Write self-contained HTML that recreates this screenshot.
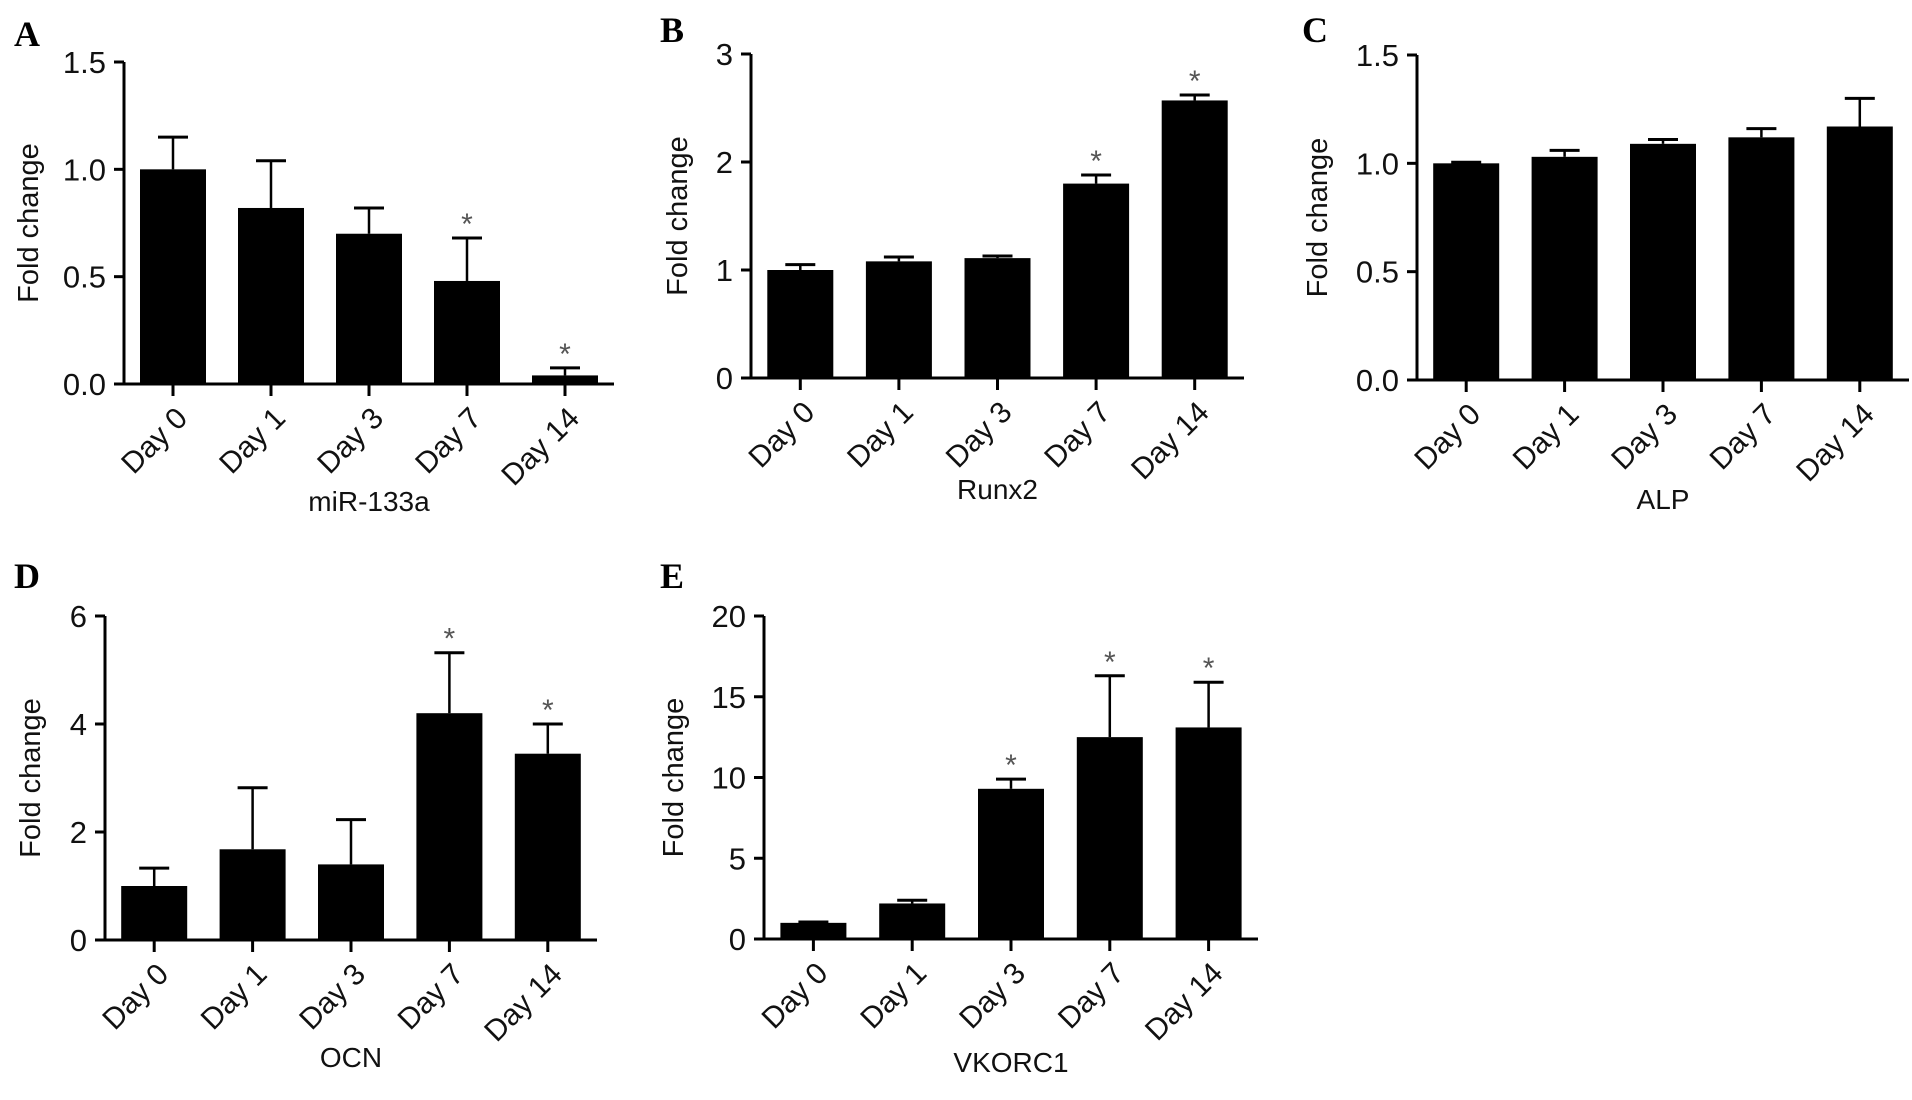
<!DOCTYPE html>
<html><head><meta charset="utf-8"><style>
html,body{margin:0;padding:0;background:#fff;}
svg{display:block;font-family:"Liberation Sans",Arial,sans-serif;}
</style></head><body>
<svg id="fig" width="1912" height="1100" viewBox="0 0 1912 1100" xmlns="http://www.w3.org/2000/svg"></svg>
<script>
const categories = ["Day 0","Day 1","Day 3","Day 7","Day 14"];
const mirValues = [1.0, 0.82, 0.70, 0.48, 0.04];
const mirErrors = [1.15, 1.04, 0.82, 0.68, 0.075];
const mirTicks = ["0.0","0.5","1.0","1.5"];
const runxValues = [1.0, 1.08, 1.11, 1.80, 2.57];
const runxErrors = [1.05, 1.12, 1.13, 1.88, 2.62];
const runxTicks = ["0","1","2","3"];
const alpValues = [1.0, 1.03, 1.09, 1.12, 1.17];
const alpErrors = [1.005, 1.06, 1.11, 1.16, 1.30];
const alpTicks = ["0.0","0.5","1.0","1.5"];
const ocnValues = [1.0, 1.68, 1.40, 4.20, 3.45];
const ocnErrors = [1.33, 2.82, 2.23, 5.32, 4.0];
const ocnTicks = ["0","2","4","6"];
const vkValues = [1.0, 2.2, 9.3, 12.5, 13.1];
const vkErrors = [1.05, 2.4, 9.9, 16.3, 15.9];
const vkTicks = ["0","5","10","15","20"];
const mirSig = [false,false,false,true,true];
const runxSig = [false,false,false,true,true];
const alpSig = [false,false,false,false,false];
const ocnSig = [false,false,false,true,true];
const vkSig = [false,false,true,true,true];

const NS="http://www.w3.org/2000/svg";
const svg=document.getElementById('fig');
function mk(tag,attrs,parent){const e=document.createElementNS(NS,tag);for(const k in attrs)e.setAttribute(k,attrs[k]);(parent||svg).appendChild(e);return e;}

function panel(id,letter,title,L,values,errors,ticks,sig){
  const g=mk('g',{});
  
  
  const tmax=parseFloat(ticks[ticks.length-1]);
  const y=v=>L.zero-(v/tmax)*(L.zero-L.top);
  const step=(L.xend-L.ax)/5;
  const x=i=>L.ax+step*(i+0.5);
  const bw=66;
  const lt=mk('text',{x:L.lx,y:L.ly,'font-family':'Liberation Serif,serif','font-weight':'bold','font-size':36},g);
  lt.textContent=letter;
  
  
  values.forEach((v,i)=>{
    const e=errors[i];
    const el=mk('line',{x1:x(i),x2:x(i),y1:y(v),y2:y(e),stroke:'#000','stroke-width':2.5},g);
    
    
    const cap=mk('line',{x1:x(i)-15,x2:x(i)+15,y1:y(e),y2:y(e),stroke:'#000','stroke-width':3},g);
    
    
    const r=mk('rect',{x:x(i)-bw/2,y:y(v),width:bw,height:L.zero-y(v),fill:'#000'},g);
    
    
    if(sig[i]){
      const s=mk('text',{x:x(i),y:y(e)-4,'text-anchor':'middle','font-size':30,fill:'#555'},g);
      s.textContent='*';
      
      
    }
    const tk=mk('line',{x1:x(i),x2:x(i),y1:L.zero,y2:L.zero+12,stroke:'#000','stroke-width':3},g);
    
    
    const tl=mk('text',{x:x(i)+16,y:L.zero+36,'text-anchor':'end','font-size':30,fill:'#111',transform:`rotate(-45 ${x(i)+16} ${L.zero+36})`},g);
    tl.textContent=categories[i];
    
    
  });
  const ya=mk('line',{x1:L.ax,x2:L.ax,y1:L.top,y2:L.zero+1.5,stroke:'#000','stroke-width':3},g);
  
  
  const xa=mk('line',{x1:L.ax-10,x2:L.xend,y1:L.zero,y2:L.zero,stroke:'#000','stroke-width':3},g);
  
  
  ticks.forEach(t=>{
    const v=parseFloat(t);
    const tk=mk('line',{x1:L.ax-10,x2:L.ax,y1:y(v),y2:y(v),stroke:'#000','stroke-width':3},g);
    
    
    const tl=mk('text',{x:L.ax-18,y:y(v)+11,'text-anchor':'end','font-size':31,fill:'#111'},g);
    tl.textContent=t;
    
    
  });
  const cy=(L.top+L.zero)/2;
  const yt=mk('text',{x:L.ytx,y:cy,'text-anchor':'middle','font-size':29,fill:'#111',transform:`rotate(-90 ${L.ytx} ${cy})`},g);
  yt.textContent='Fold change';
  
  
  const xt=mk('text',{x:L.ax+(L.xend-L.ax)/2,y:L.xty,'text-anchor':'middle','font-size':28,fill:'#111'},g);
  xt.textContent=title;
  
  
}

panel('a','A','miR-133a',{ax:124,top:62,zero:384,xend:614,ytx:38,xty:511,lx:14,ly:46},mirValues,mirErrors,mirTicks,mirSig);
panel('b','B','Runx2',{ax:751,top:54,zero:378,xend:1244,ytx:687,xty:499,lx:660,ly:42},runxValues,runxErrors,runxTicks,runxSig);
panel('c','C','ALP',{ax:1417,top:55,zero:380,xend:1909,ytx:1327,xty:509,lx:1302,ly:42},alpValues,alpErrors,alpTicks,alpSig);
panel('d','D','OCN',{ax:105,top:616,zero:940,xend:597,ytx:40,xty:1067,lx:14,ly:588},ocnValues,ocnErrors,ocnTicks,ocnSig);
panel('e','E','VKORC1',{ax:764,top:616,zero:939,xend:1258,ytx:683,xty:1072,lx:660,ly:588},vkValues,vkErrors,vkTicks,vkSig);
</script>
</body></html>
